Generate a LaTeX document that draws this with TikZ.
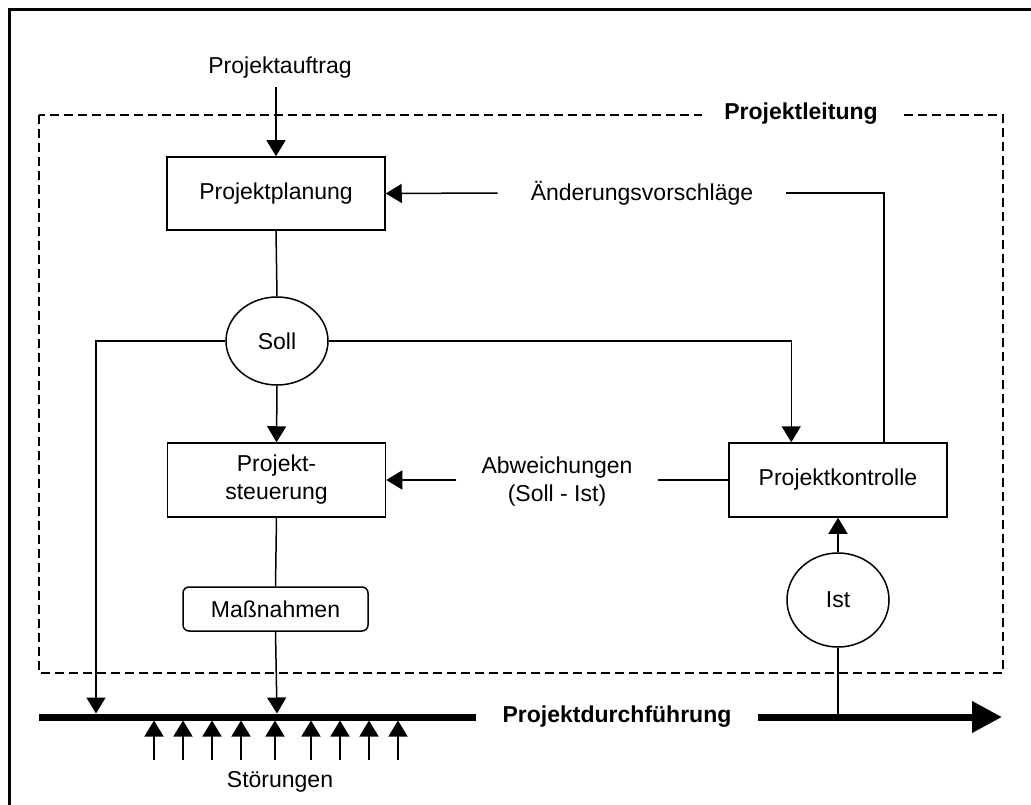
\documentclass[tikz,border=0pt]{standalone}
\usepackage{fontspec}
\setmainfont{Liberation Sans}
\usetikzlibrary{arrows.meta,shapes.geometric}

\tikzset{
  base/.style={font=\fontsize{23}{28}\selectfont},
  box/.style={base,draw,line width=1.5pt,minimum width=218pt,minimum height=74pt,inner sep=0pt,align=center},
  roundbox/.style={base,draw,line width=1.5pt,rounded corners=6pt,minimum width=185pt,minimum height=44pt,inner sep=0pt},
  oval/.style={base,draw,ellipse,line width=1.5pt,inner sep=0pt},
  label/.style={base,inner ysep=2pt},
  boldlabel/.style={font=\fontsize{23}{28}\selectfont\bfseries,fill=white,inner ysep=2pt},
  conn/.style={line width=1.5pt},
  arr/.style={conn,-{Triangle[length=16pt,width=19pt]}},
  flow/.style={line width=7pt},
  frame/.style={line width=3pt},
  zone/.style={line width=2pt,dash pattern=on 9pt off 5pt},
}

\begin{document}
\begin{tikzpicture}[x=1pt,y=-1pt]
  \useasboundingbox (0,0) rectangle (1031,805);

  % outer frame
  \draw[frame] (1031,10) -- (9,10) -- (9,805);

  % management zone
  \draw[zone] (39,115) rectangle (1003,673);
  \node[boldlabel,inner xsep=22pt] (pl) at (801,114) {Projektleitung};

  % main blocks
  \node[label] (pa) at (280,68) {Projektauftrag};
  \node[box,minimum height=73pt] (pp) at (276,193.5) {Projektplanung};
  \node[oval,minimum width=102pt,minimum height=88pt] (soll) at (277,341) {Soll};
  \node[box] (ps) at (276.5,480) {Projekt-\\steuerung};
  \node[roundbox] (mn) at (275.5,609) {Maßnahmen};
  \node[box] (pk) at (838,480) {Projektkontrolle};
  \node[oval,minimum width=102pt,minimum height=94pt] (ist) at (838,600) {Ist};

  % feedback labels
  \node[label,inner xsep=33pt] (av) at (642,193) {Änderungsvorschläge};
  \node[label,align=center,inner xsep=25pt] (ab) at (557,482) {Abweichungen\\(Soll - Ist)};

  % execution line
  \node[boldlabel,inner xsep=26pt] (pd) at (617,717) {Projektdurchführung};
  \coordinate (fstart) at (39,717);
  \coordinate (fend) at (1002,717);
  \draw[flow] (fstart) -- (pd.west);
  \draw[flow,-{Triangle[length=30pt,width=30pt]}] (pd.east) -- (fend);

  \coordinate (hitA) at (96,713.5);
  \coordinate (hitB) at (277,713.5);
  \coordinate (hitC) at (838,717);

  % connectors
  \draw[arr] (pa.south -| pp.north) ++(0,6) -- (pp.north);
  \draw[conn] (pp.south) -- (soll.north);
  \draw[arr] (soll.south) -- (ps.north);
  \draw[arr] (soll.west) -| (hitA);
  \draw[arr] (soll.east) -| ([xshift=63pt]pk.north west);
  \draw[conn] ([xshift=-64pt]pk.north east) |- (av.east);
  \draw[arr] (av.west) -- (pp.east);
  \draw[conn] (pk.west) -- (pk.west -| ab.east);
  \draw[arr] (ps.east -| ab.west) -- (ps.east);
  \draw[conn] (ps.south) -- (mn.north);
  \draw[arr] (mn.south) -- (hitB);
  \draw[arr] (ist.north) -- (pk.south);
  \draw[conn] (ist.south) -- (hitC);

  % disturbances
  \foreach \x [count=\i] in {154,183,212,241,275,311,340,369,398} {
    \coordinate (s\i) at (\x,760);
    \coordinate (t\i) at (\x,720.5);
    \draw[arr] (s\i) -- (t\i);
  }
  \node[label] (st) at (280,782) {Störungen};
\end{tikzpicture}
\end{document}
